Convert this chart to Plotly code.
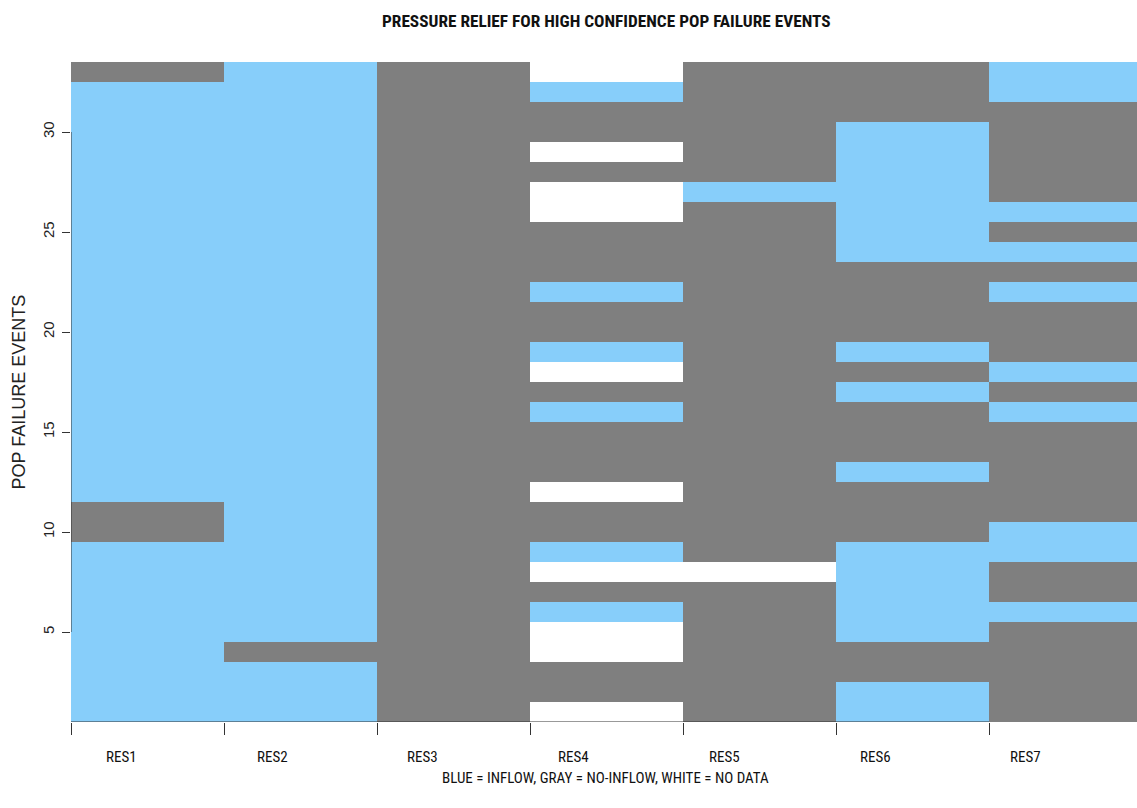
import plotly.graph_objects as go

# ---- data: 1 = inflow (blue), 0 = no-inflow (gray), None = no data (white)
# each list is event 1 .. 33 (bottom to top)
N = None
categories = ["RES1", "RES2", "RES3", "RES4", "RES5", "RES6", "RES7"]
events = list(range(1, 34))

RES1 = [1]*9 + [0, 0] + [1]*21 + [0]
RES2 = [1, 1, 1, 0] + [1]*29
RES3 = [0]*33
RES4 = [N, 0, 0, N, N, 1, 0, N, 1, 0, 0, N, 0, 0, 0, 1, 0, N, 1, 0, 0,
        1, 0, 0, 0, N, N, 0, N, 0, 0, 1, N]
RES5 = [0, 0, 0, 0, 0, 0, 0, N, 0, 0, 0, 0, 0, 0, 0, 0, 0, 0, 0, 0, 0,
        0, 0, 0, 0, 0, 1, 0, 0, 0, 0, 0, 0]
RES6 = [1, 1, 0, 0, 1, 1, 1, 1, 1, 0, 0, 0, 1, 0, 0, 0, 1, 0, 1, 0, 0,
        0, 0, 1, 1, 1, 1, 1, 1, 1, 0, 0, 0]
RES7 = [0, 0, 0, 0, 0, 1, 0, 0, 1, 1, 0, 0, 0, 0, 0, 1, 0, 1, 0, 0, 0,
        1, 0, 1, 0, 1, 0, 0, 0, 0, 0, 1, 1]

columns = [RES1, RES2, RES3, RES4, RES5, RES6, RES7]
y_ticks = [5, 10, 15, 20, 25, 30]

title_text = "PRESSURE RELIEF FOR HIGH CONFIDENCE POP FAILURE EVENTS"
y_title = "POP FAILURE EVENTS"
caption = "BLUE = INFLOW, GRAY = NO-INFLOW, WHITE = NO DATA"

# ---- figure
BLUE = "#87CEFA"
GRAY = "#7F7F7F"
NARROW = "Roboto Condensed, Liberation Sans Narrow, sans-serif"
REG = "Liberation Sans, Arial, sans-serif"

z = [[col[r] for col in columns] for r in range(len(events))]
xs = list(range(len(categories)))

fig = go.Figure(go.Heatmap(
    x=xs, y=events, z=z,
    zmin=0, zmax=1,
    colorscale=[[0, GRAY], [0.5, GRAY], [0.5, BLUE], [1, BLUE]],
    showscale=False, hoverongaps=False,
))

W, H = 1137, 808
ml, mr, mt, mb = 71, 0, 62, 86
pw = W - ml - mr
ph = H - mt - mb
col_px = 153.0

fig.update_layout(
    width=W, height=H,
    margin=dict(l=ml, r=mr, t=mt, b=mb, pad=0),
    paper_bgcolor="white", plot_bgcolor="white",
    showlegend=False,
    xaxis=dict(
        range=[-0.5, -0.5 + pw / col_px],
        tickvals=[i - 0.5 for i in range(len(categories))],
        ticktext=[""] * len(categories),
        showticklabels=False,
        ticks="outside", ticklen=12, tickcolor="#333", tickwidth=1,
        showgrid=False, zeroline=False, showline=False,
    ),
    yaxis=dict(
        range=[0.5, len(events) + 0.5],
        tickvals=y_ticks,
        tickangle=-90,
        ticks="outside", ticklen=8, tickcolor="#333", tickwidth=1,
        tickfont=dict(family=REG, size=15, color="#222"),
        showgrid=False, zeroline=False, showline=False,
        ticklabelstandoff=2,
    ),
)

# R-style axis lines spanning first..last tick
fig.add_shape(type="line", xref="x", yref="y",
              x0=-0.5, x1=-0.5, y0=y_ticks[0], y1=y_ticks[-1],
              line=dict(color="#333", width=1))
fig.add_shape(type="line", xref="x", yref="y",
              x0=-0.5, x1=len(categories) - 1.5, y0=0.5, y1=0.5,
              line=dict(color="#333", width=1))

# category labels (offset from the boundary ticks as in the reference)
for i, name in enumerate(categories):
    fig.add_annotation(
        x=-0.17 + 0.985 * i, xref="x",
        y=-(756.5 - (mt + ph)) / ph, yref="paper",
        text=name, showarrow=False, xanchor="center", yanchor="middle",
        font=dict(family=NARROW, size=15, color="#111"),
    )

fig.add_annotation(
    x=(606 - ml) / pw, xref="paper", y=1 + (mt - 21) / ph, yref="paper",
    text="<b>" + title_text + "</b>", showarrow=False,
    xanchor="center", yanchor="middle",
    font=dict(family=NARROW, size=17.3, color="#111"),
)
fig.add_annotation(
    x=(18.5 - ml) / pw, xref="paper", y=0.5, yref="paper",
    text=y_title, textangle=-90, showarrow=False,
    xanchor="center", yanchor="middle",
    font=dict(family=REG, size=18, color="#222"),
)
fig.add_annotation(
    x=(605 - ml) / pw, xref="paper", y=-(778 - (mt + ph)) / ph, yref="paper",
    text=caption, showarrow=False, xanchor="center", yanchor="middle",
    font=dict(family=NARROW, size=15, color="#111"),
)

fig.write_html("out.html")
